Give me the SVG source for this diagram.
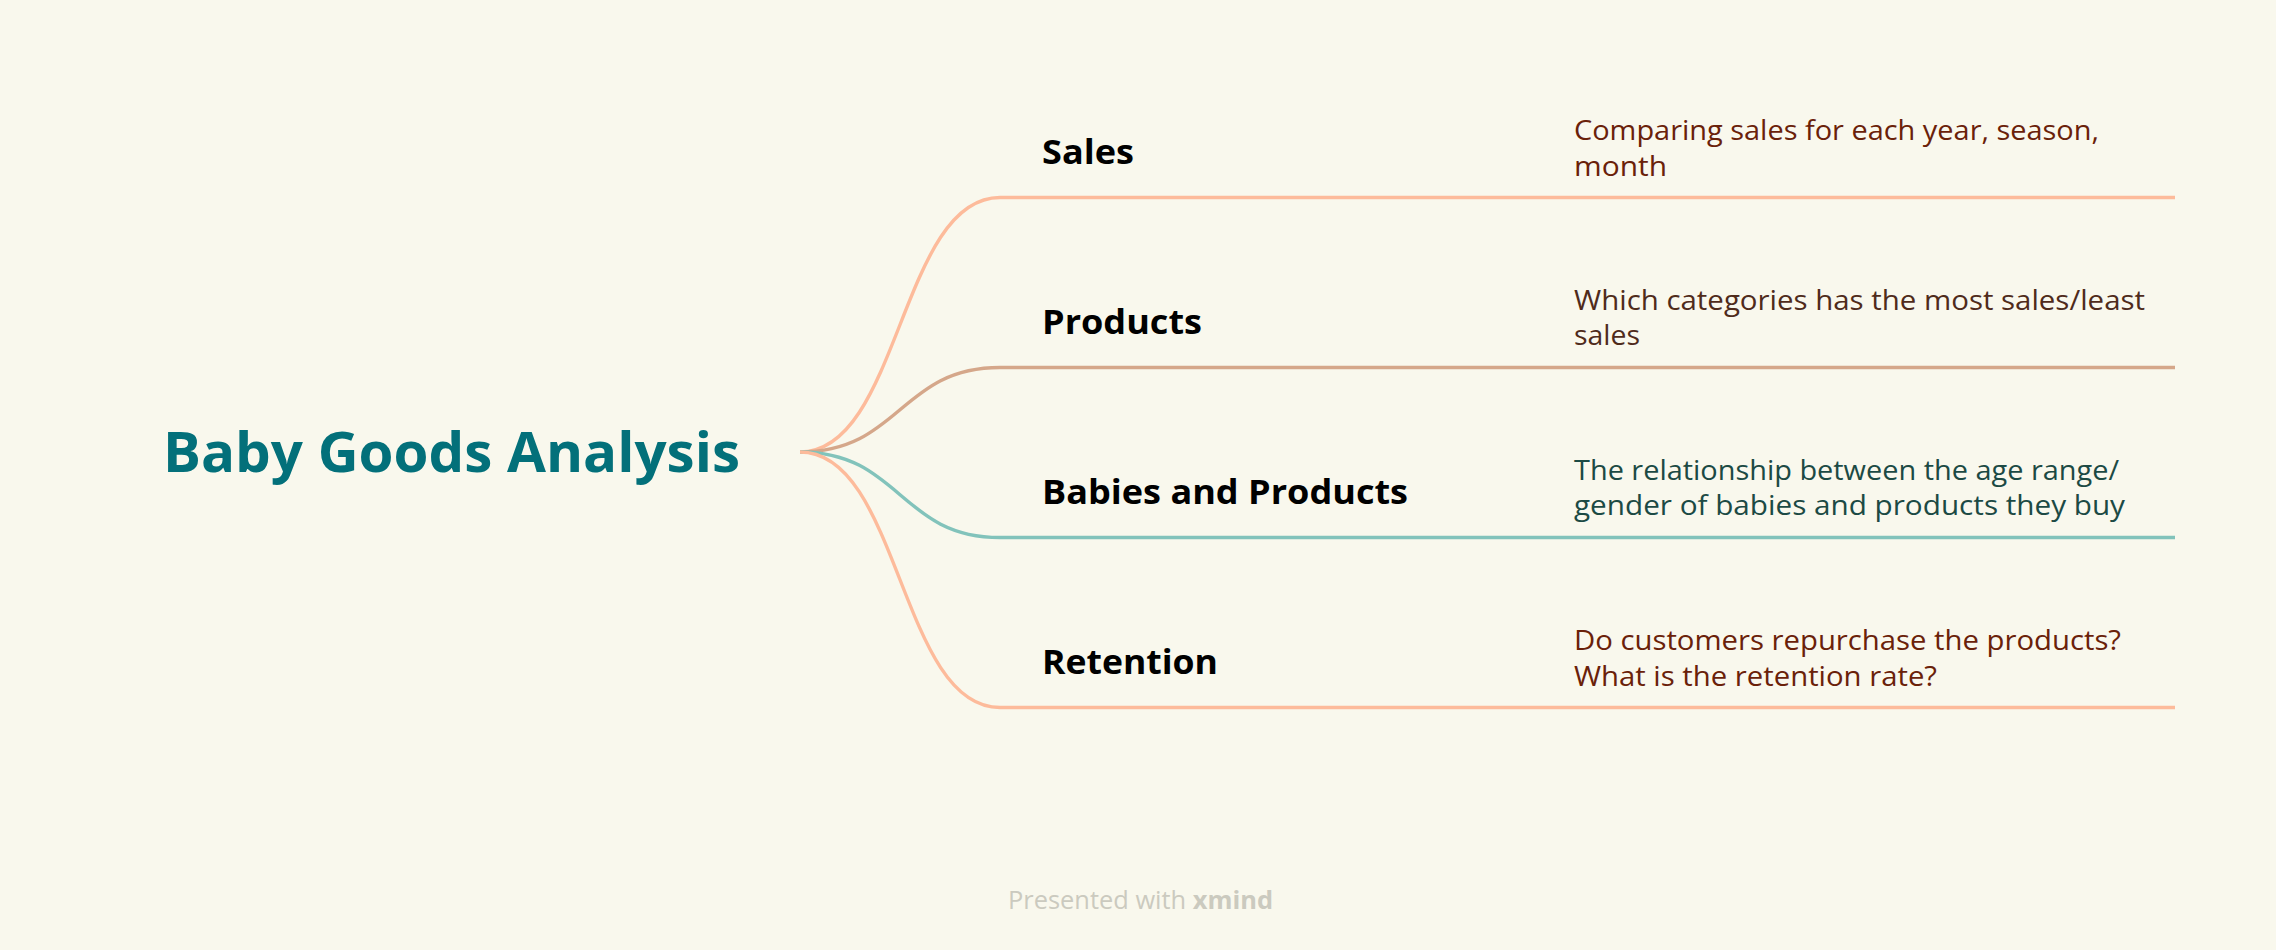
<svg xmlns="http://www.w3.org/2000/svg" width="2276" height="950" viewBox="0 0 2276 950">
<style>
.bg{fill:#f9f8ed}
.title{font-family:"Open Sans","Liberation Sans",sans-serif;font-weight:700;font-size:56px;fill:#03707a}
.lbl{font-family:"Open Sans","Liberation Sans",sans-serif;font-weight:700;font-size:34px;fill:#000}
.desc{font-family:"Open Sans","Liberation Sans",sans-serif;font-size:27px}
.conn{fill:none;stroke-width:3.4;stroke-linecap:butt}
.foot{font-family:"Open Sans","Liberation Sans",sans-serif;font-size:25px;fill:#cbcabf}
</style>
<rect class="bg" x="0" y="0" width="2276" height="950"/>
<g id="connectors">
<path class="conn" stroke="#fdbb9b" d="M800,452 C900,452 900,197.5 1000,197.5 L2175,197.5"/>
<path class="conn" stroke="#d5a78a" d="M800,452 C900,452 900,367.5 1000,367.5 L2175,367.5"/>
<path class="conn" stroke="#82c3bb" d="M800,452 C900,452 900,537.5 1000,537.5 L2175,537.5"/>
<path class="conn" stroke="#fdbb9b" d="M800,452 C900,452 900,707.5 1000,707.5 L2175,707.5"/>
</g>
<g id="root">
<text class="title" x="163" y="472" textLength="577" lengthAdjust="spacingAndGlyphs">Baby Goods Analysis</text>
</g>
<g id="sales">
<text class="lbl" x="1042" y="164" textLength="92" lengthAdjust="spacingAndGlyphs">Sales</text>
<text class="desc" fill="#6a2109" x="1574" y="140" textLength="525" lengthAdjust="spacingAndGlyphs">Comparing sales for each year, season,</text>
<text class="desc" fill="#6a2109" x="1574" y="176" textLength="93" lengthAdjust="spacingAndGlyphs">month</text>
</g>
<g id="products">
<text class="lbl" x="1042" y="334" textLength="160" lengthAdjust="spacingAndGlyphs">Products</text>
<text class="desc" fill="#4f2b1b" x="1574" y="310" textLength="571" lengthAdjust="spacingAndGlyphs">Which categories has the most sales/least</text>
<text class="desc" fill="#4f2b1b" x="1574" y="345" textLength="66" lengthAdjust="spacingAndGlyphs">sales</text>
</g>
<g id="babies">
<text class="lbl" x="1042" y="504" textLength="366" lengthAdjust="spacingAndGlyphs">Babies and Products</text>
<text class="desc" fill="#1c4a44" x="1574" y="480" textLength="545" lengthAdjust="spacingAndGlyphs">The relationship between the age range/</text>
<text class="desc" fill="#1c4a44" x="1574" y="515" textLength="551" lengthAdjust="spacingAndGlyphs">gender of babies and products they buy</text>
</g>
<g id="retention">
<text class="lbl" x="1042" y="674" textLength="176" lengthAdjust="spacingAndGlyphs">Retention</text>
<text class="desc" fill="#6a2109" x="1574" y="650" textLength="547" lengthAdjust="spacingAndGlyphs">Do customers repurchase the products?</text>
<text class="desc" fill="#6a2109" x="1574" y="686" textLength="363" lengthAdjust="spacingAndGlyphs">What is the retention rate?</text>
</g>
<g id="footer">
<text class="foot" x="1008" y="909" textLength="265" lengthAdjust="spacingAndGlyphs">Presented with <tspan font-weight="700">xmind</tspan></text>
</g>
</svg>
